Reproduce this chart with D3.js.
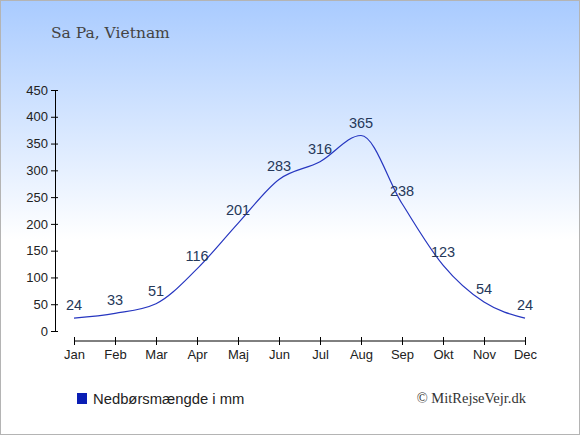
<!DOCTYPE html>
<html>
<head>
<meta charset="utf-8">
<script src="https://cdn.jsdelivr.net/npm/d3@7"></script>
<style>
body { margin: 0; padding: 0; }
svg { display: block; }
</style>
</head>
<body>
<div id="chart"></div>
<script>
var months = ["Jan", "Feb", "Mar", "Apr", "Maj", "Jun", "Jul", "Aug", "Sep", "Okt", "Nov", "Dec"];
var rain = [24, 33, 51, 116, 201, 283, 316, 365, 238, 123, 54, 24];
var yTicks = [0, 50, 100, 150, 200, 250, 300, 350, 400, 450];

function drawChart() {
    var width = 580, height = 435;
    var svg = d3.select("#chart").append("svg").attr("width", width).attr("height", height);

    // baggrund
    var grad = svg.append("defs").append("linearGradient")
        .attr("id", "bg").attr("x1", 0).attr("y1", 0).attr("x2", 0).attr("y2", 1);
    grad.append("stop").attr("offset", "0%").attr("stop-color", "#a9cbff");
    grad.append("stop").attr("offset", "55%").attr("stop-color", "#ffffff");
    grad.append("stop").attr("offset", "100%").attr("stop-color", "#ffffff");
    svg.append("rect").attr("x", 0.5).attr("y", 0.5).attr("width", width - 1).attr("height", height - 1)
        .attr("fill", "url(#bg)").attr("stroke", "#b4b4b4").attr("stroke-width", 1);

    svg.append("text").attr("x", 51).attr("y", 38)
        .style("font-family", "'DejaVu Serif', serif").style("font-size", "15.5px").attr("fill", "#444")
        .text("Sa Pa, Vietnam");

    var x = d3.scalePoint().domain(months).range([74, 525]);
    var y = d3.scaleLinear().domain([0, 450]).range([331, 90]);

    var yAxis = svg.append("g").attr("transform", "translate(55,0)")
        .call(d3.axisLeft(y).tickValues(yTicks).tickSizeInner(4).tickSizeOuter(0).tickPadding(3));
    yAxis.selectAll(".tick line").attr("x2", 3).attr("x1", -4);

    var xAxis = svg.append("g").attr("transform", "translate(0,341)")
        .call(d3.axisBottom(x).tickSizeInner(4).tickSizeOuter(0).tickPadding(5));
    xAxis.selectAll(".tick line").attr("y1", -4).attr("y2", 4);
    xAxis.select(".domain").attr("d", "M74,0H525");

    svg.selectAll(".tick text").style("font-family", "'Liberation Sans', Arial, sans-serif")
        .style("font-size", "13px").attr("fill", "#222");
    svg.selectAll(".domain, .tick line").attr("stroke", "#000");

    var line = d3.line()
        .x(function(d, i) { return x(months[i]); })
        .y(function(d) { return y(d); })
        .curve(d3.curveMonotoneX);

    svg.append("path").datum(rain).attr("d", line)
        .attr("fill", "none").attr("stroke", "#2636c0").attr("stroke-width", 1.2);

    svg.selectAll(".lbl").data(rain).enter().append("text").classed("lbl", 1)
        .attr("x", function(d, i) { return x(months[i]); })
        .attr("y", function(d) { return y(d) - 8; })
        .attr("text-anchor", "middle")
        .style("font-family", "'Liberation Sans', Arial, sans-serif").style("font-size", "14.5px")
        .attr("fill", "#25385a")
        .text(function(d) { return d; });

    // legende
    svg.append("rect").attr("x", 77).attr("y", 393).attr("width", 10).attr("height", 11).attr("fill", "#0a1eb4");
    svg.append("text").attr("x", 93).attr("y", 404)
        .style("font-family", "'Liberation Sans', Arial, sans-serif").style("font-size", "14.8px").attr("fill", "#222")
        .text("Nedbørsmængde i mm");

    svg.append("text").attr("x", 526).attr("y", 403).attr("text-anchor", "end")
        .style("font-family", "'Liberation Serif', 'Times New Roman', serif").style("font-size", "14.5px").attr("fill", "#333")
        .text("© MitRejseVejr.dk");
}
drawChart();
</script>
</body>
</html>
